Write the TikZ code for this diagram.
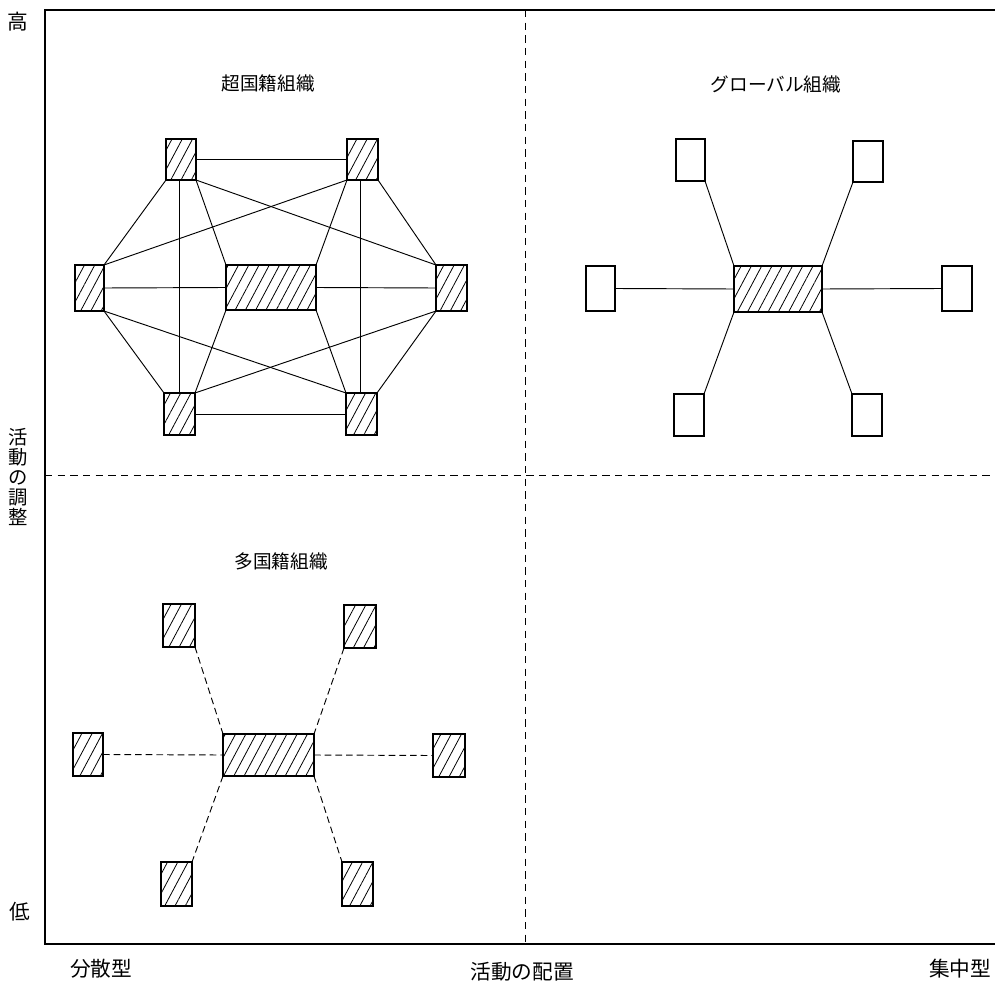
\documentclass[tikz,border=0pt]{standalone}
\usepackage{fontspec}
\setmainfont{Noto Sans CJK JP}
\usetikzlibrary{patterns.meta}

\tikzset{
  unit/.style n args={2}{draw, line width=0.85pt, inner sep=0pt, outer sep=0pt,
    minimum width=#1*0.75pt, minimum height=#2*0.75pt},
  hatch/.style={pattern={Lines[angle=62,distance=6.8pt,line width=0.6pt]}},
  link/.style={line width=0.7pt},
  dlink/.style={line width=0.7pt, dash pattern=on 5pt off 3pt},
  frame/.style={line width=1.1pt},
  divider/.style={line width=0.7pt, dash pattern=on 5.5pt off 4pt},
  axlabel/.style={inner sep=0pt, font=\fontsize{15.5}{15.5}\selectfont, align=center},
  title/.style={inner sep=0pt, font=\fontsize{14}{16}\selectfont},
}

\begin{document}
\begin{tikzpicture}[x=0.75pt,y=-0.75pt]
\useasboundingbox (0,0) rectangle (995,984);

% frame and quadrant dividers
\coordinate (ftop) at (45,10);
\coordinate (fbot) at (45,944);
\coordinate (ftopr) at (995,10);
\coordinate (fbotr) at (995,944);
\coordinate (vtop) at (525,10);
\coordinate (vbot) at (525,944);
\coordinate (hleft) at (45,475);
\coordinate (hright) at (995,475);
\draw[frame] (ftopr) -- (ftop) -- (fbot) -- (fbotr);
\draw[divider] (vtop) -- (vbot);
\draw[divider] (hleft) -- (hright);

% axis labels
\node[axlabel] (hi) at (18,22) {高};
\node[axlabel, font=\fontsize{14.5}{15}\selectfont] (coord) at (18,477) {活\\動\\の\\調\\整};
\node[axlabel] (lo) at (20,912) {低};
\node[axlabel] (disp) at (101,969) {分散型};
\node[axlabel] (conf) at (522,972) {活動の配置};
\node[axlabel] (conc) at (960,969) {集中型};

% quadrant titles
\node[title] (ttrans) at (268,83) {超国籍組織};
\node[title] (tglob) at (776,84) {グローバル組織};
\node[title] (tmulti) at (281,561) {多国籍組織};

% transnational organisation: fully connected network
\node[unit={30}{41}, hatch] (atl) at (181,159.5) {};
\node[unit={31}{41}, hatch] (atr) at (362.5,159.5) {};
\node[unit={29}{46}, hatch] (al) at (89.5,288) {};
\node[unit={90}{45}, hatch] (ac) at (271,287.5) {};
\node[unit={31}{46}, hatch] (ar) at (451.5,288) {};
\node[unit={31}{42}, hatch] (abl) at (179.5,414) {};
\node[unit={31}{42}, hatch] (abr) at (361.5,414) {};

\draw[link] (atl.east) -- (atr.west);
\draw[link] (abl.east) -- (abr.west);
\draw[link] (al.east) -- (ac.west);
\draw[link] (ac.east) -- (ar.west);
\draw[link] ([xshift=-1pt]atl.south) -- ([xshift=-1pt]atl.south |- abl.north);
\draw[link] ([xshift=-1.5pt]atr.south) -- ([xshift=-1.5pt]atr.south |- abr.north);
\draw[link] (atl.south west) -- (al.north east);
\draw[link] (atl.south east) -- (ac.north west);
\draw[link] (atl.south east) -- (ar.north west);
\draw[link] (atr.south west) -- (al.north east);
\draw[link] (atr.south west) -- (ac.north east);
\draw[link] (atr.south east) -- (ar.north west);
\draw[link] (al.south east) -- (abl.north west);
\draw[link] (al.south east) -- (abr.north west);
\draw[link] (ac.south west) -- (abl.north east);
\draw[link] (ac.south east) -- (abr.north west);
\draw[link] (ar.south west) -- (abl.north east);
\draw[link] (ar.south west) -- (abr.north east);

% global organisation: hatched hub, plain satellites
\node[unit={29}{42}] (btl) at (690.5,160) {};
\node[unit={30}{41}] (btr) at (868,161.5) {};
\node[unit={29}{45}] (bl) at (600.5,288.5) {};
\node[unit={88}{46}, hatch] (bc) at (778,289) {};
\node[unit={30}{45}] (br) at (957,288.5) {};
\node[unit={30}{42}] (bbl) at (689,415) {};
\node[unit={30}{42}] (bbr) at (867,415) {};

\draw[link] (btl.south east) -- (bc.north west);
\draw[link] (btr.south west) -- (bc.north east);
\draw[link] (bl.east) -- (bc.west);
\draw[link] (bc.east) -- (br.west);
\draw[link] (bc.south west) -- (bbl.north east);
\draw[link] (bc.south east) -- (bbr.north west);

% multinational organisation: loose dashed ties
\node[unit={32}{43}, hatch] (ctl) at (179,625.5) {};
\node[unit={32}{43}, hatch] (ctr) at (360,626.5) {};
\node[unit={30}{43}, hatch] (cl) at (88,754.5) {};
\node[unit={91}{42}, hatch] (cc) at (268.5,755) {};
\node[unit={32}{43}, hatch] (cr) at (449,755.5) {};
\node[unit={31}{44}, hatch] (cbl) at (176.5,884) {};
\node[unit={31}{44}, hatch] (cbr) at (357.5,884) {};

\draw[dlink] (ctl.south east) -- (cc.north west);
\draw[dlink] (ctr.south west) -- (cc.north east);
\draw[dlink] (cl.east) -- (cc.west);
\draw[dlink] (cc.east) -- (cr.west);
\draw[dlink] (cc.south west) -- (cbl.north east);
\draw[dlink] (cc.south east) -- (cbr.north west);
\end{tikzpicture}
\end{document}
